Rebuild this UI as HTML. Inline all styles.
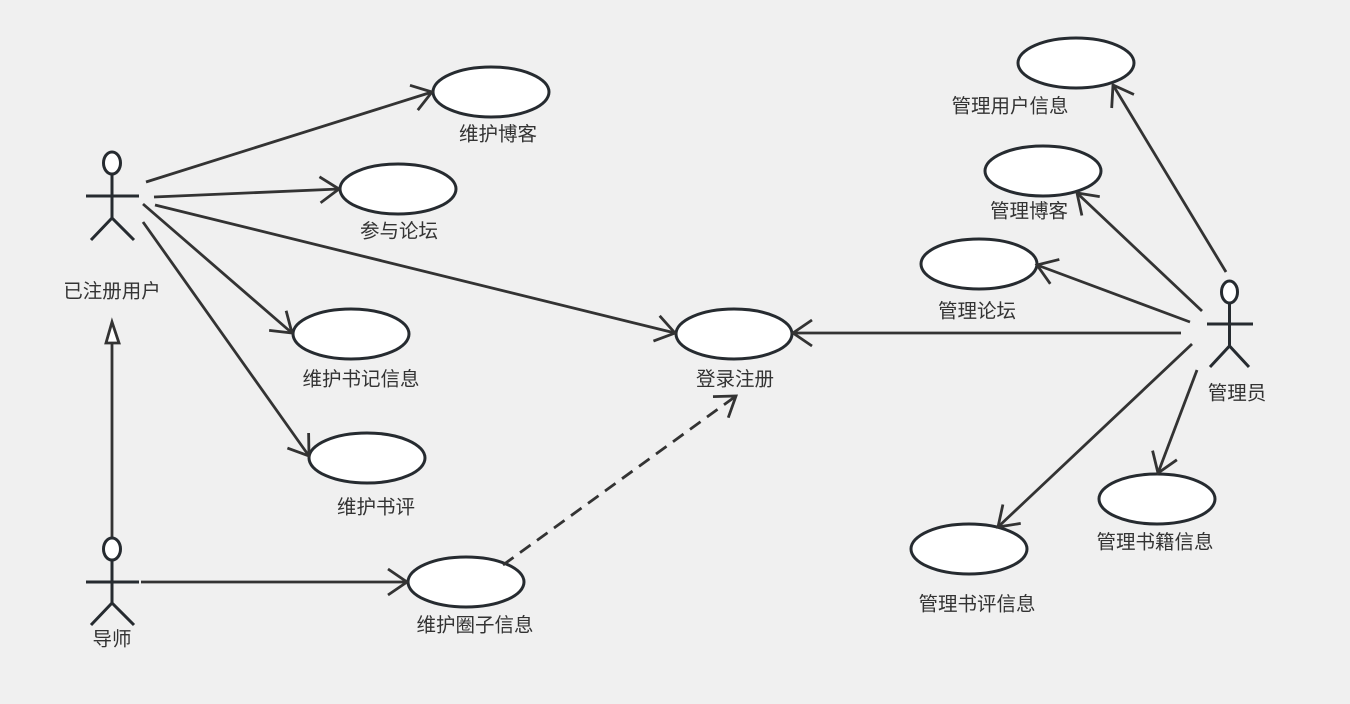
<!DOCTYPE html>
<html><head><meta charset="utf-8"><style>
html,body{margin:0;padding:0;background:#f0f0f0;}
svg{display:block;}
text{font-family:"Liberation Sans","Noto Sans CJK SC",sans-serif;font-size:19.5px;fill:#333;}
</style></head><body>
<svg width="1350" height="704" viewBox="0 0 1350 704" xmlns="http://www.w3.org/2000/svg">
<defs>
<marker id="a" markerUnits="userSpaceOnUse" viewBox="-25 -16 30 32" refX="0" refY="0" markerWidth="30" markerHeight="32" orient="auto">
<path d="M-19,-13 L0,0 L-19,13" fill="none" stroke="#333" stroke-width="2.8"/>
</marker>
</defs>
<rect width="1350" height="704" fill="#f0f0f0"/>
<g fill="#fff" stroke="#262b30" stroke-width="3">
<ellipse cx="491" cy="92" rx="58" ry="25"/>
<ellipse cx="398" cy="189" rx="58" ry="25"/>
<ellipse cx="351" cy="334" rx="58" ry="25"/>
<ellipse cx="367" cy="458" rx="58" ry="25"/>
<ellipse cx="466" cy="582" rx="58" ry="25"/>
<ellipse cx="734" cy="334" rx="58" ry="25"/>
<ellipse cx="1076" cy="63" rx="58" ry="25"/>
<ellipse cx="1043" cy="171" rx="58" ry="25"/>
<ellipse cx="979" cy="264" rx="58" ry="25"/>
<ellipse cx="1157" cy="499" rx="58" ry="25"/>
<ellipse cx="969" cy="549" rx="58" ry="25"/>
</g>
<g stroke="#333" stroke-width="2.8" fill="none" marker-end="url(#a)">
<line x1="146" y1="182" x2="432" y2="92"/>
<line x1="154" y1="197" x2="339" y2="189"/>
<line x1="155" y1="205" x2="675" y2="333"/>
<line x1="143" y1="204" x2="292" y2="333"/>
<line x1="143" y1="222" x2="309" y2="456"/>
<line x1="141" y1="582" x2="407" y2="582"/>
<line x1="503" y1="565" x2="736" y2="396" stroke-dasharray="13 8"/>
<line x1="1181" y1="333" x2="793" y2="333"/>
<line x1="1226" y1="272" x2="1113" y2="85"/>
<line x1="1202" y1="311" x2="1077" y2="193"/>
<line x1="1190" y1="322" x2="1037" y2="265"/>
<line x1="1192" y1="344" x2="998" y2="527"/>
<line x1="1197" y1="370" x2="1158" y2="473"/>
</g>
<g stroke="#333" stroke-width="2.8">
<line x1="112" y1="538" x2="112" y2="343"/>
<polygon points="112,322 106,343 119,343" fill="#fff"/>
</g>
<g stroke="#262b30" stroke-width="3" fill="none">
<ellipse cx="112" cy="163" rx="8.5" ry="11" fill="#fff"/>
<line x1="112" y1="174" x2="112" y2="218"/>
<line x1="86" y1="196" x2="139" y2="196"/>
<polyline points="91,240 112,218 134,240"/>
<ellipse cx="112" cy="549" rx="8.5" ry="11" fill="#fff"/>
<line x1="112" y1="560" x2="112" y2="603"/>
<line x1="86" y1="582" x2="139" y2="582"/>
<polyline points="91,625 112,603 134,625"/>
<ellipse cx="1229.5" cy="292" rx="8" ry="11" fill="#fff"/>
<line x1="1229.5" y1="303" x2="1229.5" y2="346"/>
<line x1="1207" y1="324" x2="1253" y2="324"/>
<polyline points="1210,367 1229.5,346 1249,367"/>
</g>
<g text-anchor="middle" dominant-baseline="central">
<text x="498" y="134.5">维护博客</text>
<text x="399" y="231.5">参与论坛</text>
<text x="112" y="291.5">已注册用户</text>
<text x="361" y="379.5">维护书记信息</text>
<text x="376" y="507.5">维护书评</text>
<text x="475" y="625.5">维护圈子信息</text>
<text x="112" y="639.5">导师</text>
<text x="735" y="379.5">登录注册</text>
<text x="1010" y="106.5">管理用户信息</text>
<text x="1029" y="211.5">管理博客</text>
<text x="977" y="311.5">管理论坛</text>
<text x="1237" y="393.5">管理员</text>
<text x="1155" y="542.5">管理书籍信息</text>
<text x="977" y="604.5">管理书评信息</text>
</g>
</svg>
</body></html>
